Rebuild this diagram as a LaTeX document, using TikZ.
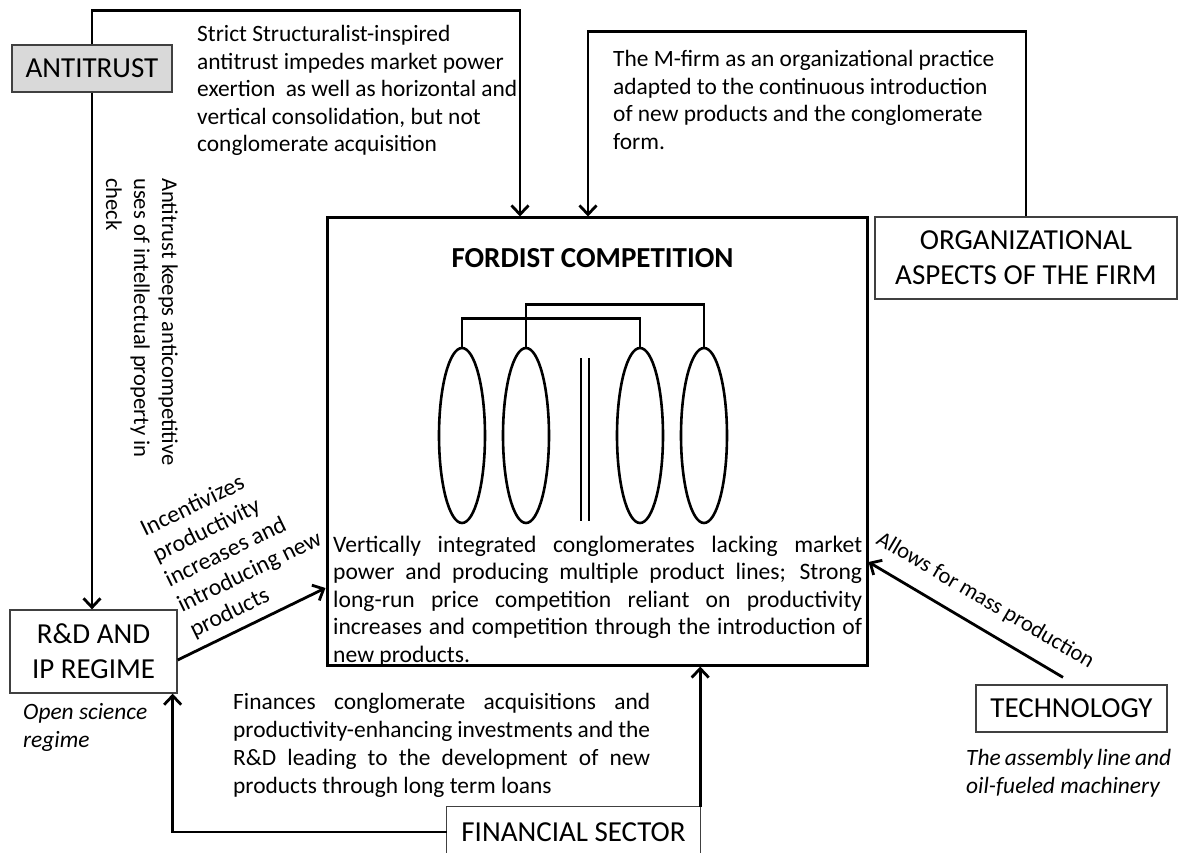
\documentclass[tikz,border=0pt]{standalone}
\usepackage{fontspec}
\setmainfont{Carlito}
\usetikzlibrary{arrows.meta,shapes.geometric}

\definecolor{antifill}{HTML}{D9D9D9}
\definecolor{frame}{HTML}{404040}

% a line stretched to the full text width, with the font's own word spaces
\newcommand{\fullline}[1]{\makebox[\linewidth][s]{\spaceskip=0pt\xspaceskip=0pt #1}}

\tikzset{
  flow/.style={line width=2.8pt, -{Straight Barb[length=9pt,width=17pt]}},
  labelbox/.style={draw=frame, line width=1.3pt, inner sep=0pt, align=center,
    font=\fontsize{29}{35}\selectfont},
  note/.style={inner sep=0pt, anchor=base west, align=justify,
    font=\fontsize{23.4}{27.5}\selectfont},
  lens/.style={ellipse, draw, line width=2.6pt, inner sep=0pt,
    minimum width=46pt, minimum height=175pt},
  link/.style={line width=2.6pt},
}

\begin{document}
\begin{tikzpicture}[x=1pt,y=-1pt]
\fill[white] (0,0) rectangle (1179,853);
\useasboundingbox (0,0) rectangle (1179,853);

% central box
\node[draw, line width=3pt, inner sep=0pt, minimum width=540pt, minimum height=447pt] (fordist) at (597,441.5) {};
\node[font=\fontsize{29}{35}\selectfont\bfseries, inner sep=0pt] (title) at (592.5,258) {FORDIST COMPETITION};

% product lines of the conglomerate
\node[lens] (e1) at (462,435.5) {};
\node[lens] (e2) at (526,435.5) {};
\node[lens] (e3) at (640,435.5) {};
\node[lens] (e4) at (704,435.5) {};
\draw[link] (e1.north) -- ++(0,-28) -| (e3.north);
\draw[link] (e2.north) -- ++(0,-42) -| (e4.north);
\draw[line width=2pt] (581,358) -- (581,521);
\draw[line width=2pt] (589,358) -- (589,521);

\node[note, text width=529pt, font=\fontsize{23.6}{27.5}\selectfont] (fordisttext) at (333,552) {%
\fullline{Vertically integrated conglomerates lacking market}\\
\fullline{power and producing multiple product lines; Strong}\\
\fullline{long-run price competition reliant on productivity}\\
\fullline{increases and competition through the introduction of}\\
new products.};

% surrounding boxes
\node[labelbox, fill=antifill, minimum width=160pt, minimum height=47pt] (antitrust) at (92,68.5) {ANTITRUST};
\node[labelbox, minimum width=167pt, minimum height=83pt] (rd) at (93.5,651.5) {R\&D AND\\IP REGIME};
\node[labelbox, minimum width=302pt, minimum height=82pt] (org) at (1026,258) {ORGANIZATIONAL\\ASPECTS OF THE FIRM};
\node[labelbox, minimum width=191pt, minimum height=47pt] (tech) at (1071.5,708.5) {TECHNOLOGY};
\node[inner sep=0pt, minimum width=253pt, minimum height=50pt, font=\fontsize{29}{35}\selectfont] (fin) at (573.5,832) {FINANCIAL SECTOR};
\draw[draw=frame, line width=1.3pt] (fin.south west) -- (fin.north west) -- (fin.north east) -- (fin.south east);

% connectors
\draw[flow] (antitrust.north) -- ++(0,-34) -| ([xshift=-77pt]fordist.north);
\draw[flow] (org.north) -- ++(0,-185) -| ([xshift=-9pt]fordist.north);
\draw[flow] (antitrust.south) -- (antitrust.south |- rd.north);
\draw[flow] ([yshift=-8.5pt]rd.east) -- ([yshift=-146.5pt]fordist.west);
\draw[flow] ([shift={(-8.5,-7)}]tech.north) -- ([yshift=-120.5pt]fordist.east);
\draw[flow] (fin.west) -| ([xshift=-5pt]rd.south east);
\draw[flow] (fin.north east) -- (fin.north east |- fordist.south);

% connector labels and notes
\node[note, text width=320pt] (strictnote) at (197,42) {Strict Structuralist-inspired\\antitrust impedes market power\\exertion \ as well as horizontal and\\vertical consolidation, but not\\conglomerate acquisition};
\node[note, text width=390pt] (mfirmnote) at (613,67) {The M-firm as an organizational practice\\adapted to the continuous introduction\\of new products and the conglomerate\\form.};
\node[note, text width=295pt, rotate=-90, font=\fontsize{22.6}{28}\selectfont] (keepsnote) at (162,178) {Antitrust keeps anticompetitive\\uses of intellectual property in\\check};
\node[note, text width=160pt, rotate=26, font=\fontsize{23.8}{28}\selectfont] (incnote) at (145,537) {Incentivizes\\productivity\\increases and\\introducing new\\products};
\node[note, rotate=-30.4, font=\fontsize{22.5}{28}\selectfont] (massnote) at (875,543) {Allows for mass production};
\node[note, text width=417pt, font=\fontsize{23.4}{28}\selectfont] (finnote) at (233,709) {%
\fullline{Finances conglomerate acquisitions and}\\
\fullline{productivity-enhancing investments and the}\\
\fullline{R\&D leading to the development of new}\\
products through long term loans};
\node[note, text width=140pt, font=\fontsize{23.4}{28}\selectfont\itshape] (opennote) at (23,719) {Open science\\regime};
\node[note, text width=205pt, font=\fontsize{23.4}{28}\selectfont\itshape] (assemblynote) at (966,765) {The assembly line and\\oil-fueled machinery};
\end{tikzpicture}
\end{document}
